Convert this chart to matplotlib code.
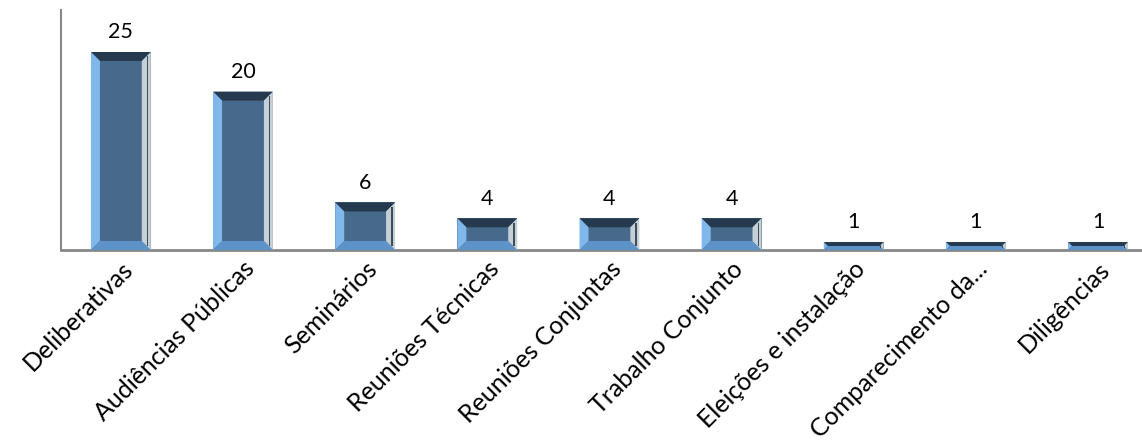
import matplotlib.pyplot as plt
from matplotlib.patches import Polygon

# --- data ---
categories = ['Deliberativas', 'Audiências Públicas', 'Seminários', 'Reuniões Técnicas',
              'Reuniões Conjuntas', 'Trabalho Conjunto', 'Eleições e instalação',
              'Comparecimento da...', 'Diligências']
values = [25, 20, 6, 4, 4, 4, 1, 1, 1]

plt.rcParams['font.family'] = ['Lato', 'DejaVu Sans']

fig = plt.figure(figsize=(11.42, 4.41), dpi=100)
ax = fig.add_axes([61 / 1142, 191 / 441, 1081 / 1142, 240 / 441])
ax.set_xlim(-0.49, 8.36)
ax.set_ylim(0, 30.3)

bars = ax.bar(range(len(values)), values, width=0.49, color='#46698c', zorder=2)

# bevel look: compute bevel size in data units from pixel size
px_x = (8.36 + 0.49) / 1081
px_y = 30.3 / 240
bev = 9
for rect in bars:
    x0 = rect.get_x()
    w = rect.get_width()
    h = rect.get_height()
    x1 = x0 + w
    bx = bev * px_x
    by = min(bev * px_y, h / 2)
    bxx = min(bx, by / px_y * px_x)
    # top (dark)
    ax.add_patch(Polygon([(x0, h), (x1, h), (x1 - bxx, h - by), (x0 + bxx, h - by)],
                         closed=True, color='#263a4f', lw=0, zorder=3))
    # left (light blue)
    ax.add_patch(Polygon([(x0, 0), (x0, h), (x0 + bxx, h - by), (x0 + bxx, by)],
                         closed=True, color='#80b8ec', lw=0, zorder=3))
    # bottom (mid blue)
    ax.add_patch(Polygon([(x0, 0), (x1, 0), (x1 - bxx, by), (x0 + bxx, by)],
                         closed=True, color='#5d93c8', lw=0, zorder=3))
    # right (silver)
    ax.add_patch(Polygon([(x1, 0), (x1, h), (x1 - bxx, h - by), (x1 - bxx, by)],
                         closed=True, color='#c5d0d6', lw=0, zorder=3))
    ax.add_patch(Polygon([(x1 - 4 * px_x, by * 0.5), (x1 - 4 * px_x, h - by * 0.5),
                          (x1 - 2.5 * px_x, h - by * 0.5), (x1 - 2.5 * px_x, by * 0.5)],
                         closed=True, color='#3d4d5a', lw=0, zorder=4))

ax.bar_label(bars, labels=[str(v) for v in values], padding=7, fontsize=15.5, color='black')

ax.set_xticks(range(len(values)))
ax.set_xticklabels(categories, rotation=45, ha='right', rotation_mode='anchor', fontsize=18)
ax.tick_params(axis='x', length=0, pad=5)
ax.set_yticks([])

for s in ['top', 'right']:
    ax.spines[s].set_visible(False)
ax.spines['left'].set_color('#878787')
ax.spines['bottom'].set_color('#878787')
ax.spines['left'].set_linewidth(1.5)
ax.spines['bottom'].set_linewidth(2)

fig.savefig('out.png', dpi=100)
